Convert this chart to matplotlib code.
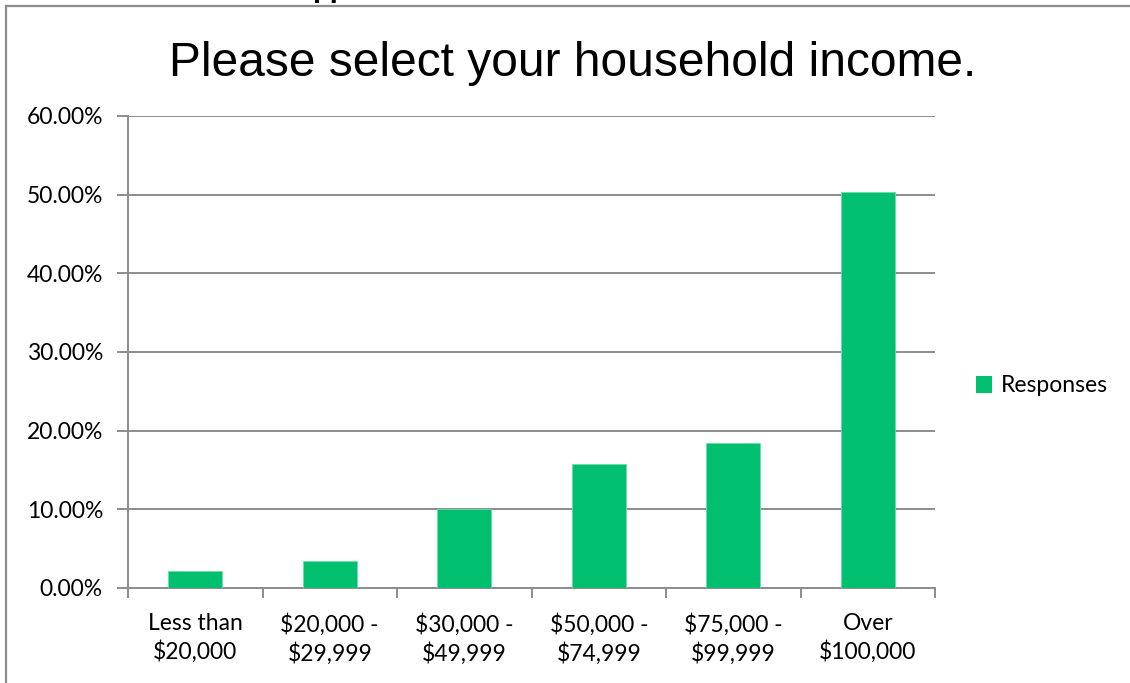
import matplotlib
matplotlib.use("Agg")
import matplotlib.pyplot as plt
from matplotlib.lines import Line2D
from matplotlib.patches import Patch
from matplotlib.ticker import FuncFormatter, MultipleLocator

categories = ["Less than\n$20,000", "$20,000 -\n$29,999", "$30,000 -\n$49,999",
              "$50,000 -\n$74,999", "$75,000 -\n$99,999", "Over\n$100,000"]
responses = [2.2, 3.4, 10.0, 15.8, 18.4, 50.4]
series_name = "Responses"
title = "Please select your household income."

W, H = 1130, 683
fig = plt.figure(figsize=(W / 100, H / 100), dpi=100)
fig.patch.set_facecolor("white")

FS = 16.5
# axes placement in pixels
x0, x1 = 128, 935
y_top, y_bot = 116, 588
ax = fig.add_axes([x0 / W, 1 - y_bot / H, (x1 - x0) / W, (y_bot - y_top) / H])

xs = list(range(len(categories)))
ax.bar(xs, responses, width=0.4, color="#00BF6F", edgecolor="#6fdcaa", linewidth=0.6, zorder=3)
ax.set_xlim(-0.5, len(categories) - 0.5)
ax.set_ylim(0, 60)
ax.yaxis.set_major_locator(MultipleLocator(10))
ax.yaxis.set_major_formatter(FuncFormatter(lambda v, p: f"{v:.2f}%"))
ax.grid(axis="y", color="#8c8c8c", linewidth=1.4, zorder=0)
for s in ["top", "right"]:
    ax.spines[s].set_visible(False)
for s in ["left", "bottom"]:
    ax.spines[s].set_color("#8c8c8c")
    ax.spines[s].set_linewidth(1.4)

ax.set_xticks([i - 0.5 for i in range(len(categories) + 1)], minor=False)
ax.set_xticklabels([])
ax.set_xticks(xs, minor=True)
ax.set_xticklabels(categories, minor=True, fontfamily="Lato", fontsize=FS, color="#000000",
                   linespacing=1.35)
ax.tick_params(axis="x", which="major", length=7, width=1.4, color="#8c8c8c", direction="out")
ax.tick_params(axis="x", which="minor", length=0, pad=18)
ax.tick_params(axis="y", length=8, width=1.4, color="#8c8c8c", direction="out", pad=10)
for lab in ax.get_yticklabels():
    lab.set_fontfamily("Lato")
    lab.set_fontsize(FS)

# title
fig.text(573 / W, 1 - 63 / H, title, ha="center", va="center",
         fontfamily="Liberation Sans", fontsize=34.5)

# clipped fragment of text above the frame (as in the reference)
fig.text(312 / W, 1 + 3 / H, "pp", ha="left", va="baseline",
         fontfamily="Liberation Sans", fontweight="bold", fontsize=21)

# legend
handles = [Patch(facecolor="#00BF6F", edgecolor="none", label=series_name)]
leg = fig.legend(handles=handles, loc="center left", bbox_to_anchor=(955 / W, 1 - 386 / H),
                 frameon=False, prop={"family": "Lato", "size": FS},
                 handlelength=0.7, handleheight=0.7, handletextpad=0.4)

# outer frame lines (top and left)
fig.add_artist(Line2D([6 / W, 1], [1 - 6 / H, 1 - 6 / H], color="#8c8c8c", linewidth=1.6))
fig.add_artist(Line2D([6 / W, 6 / W], [0, 1 - 6 / H], color="#8c8c8c", linewidth=1.6))

fig.savefig("out.png", dpi=100, facecolor="white")
